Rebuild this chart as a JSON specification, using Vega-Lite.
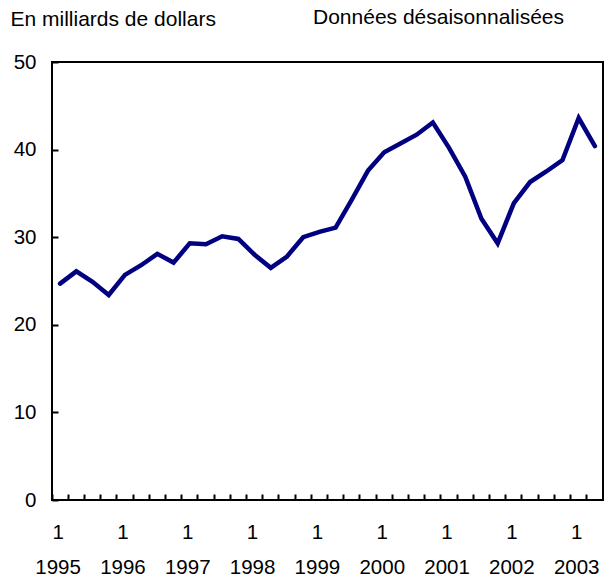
{
  "$schema": "https://vega.github.io/schema/vega-lite/v6.json",
  "width": 551,
  "height": 438,
  "autosize": "none",
  "padding": {"left": 52, "top": 62, "right": 10, "bottom": 77},
  "background": "white",
  "config": {
    "view": {"stroke": "black", "strokeWidth": 2},
    "font": "Liberation Sans",
    "axis": {"labelFont": "Liberation Sans", "labelFontSize": 20.5, "labelColor": "black", "grid": false, "domain": false, "tickColor": "black", "tickWidth": 2}
  },
  "title": {
    "text": "Données désaisonnalisées",
    "anchor": "start",
    "frame": "group",
    "dx": 261,
    "offset": -37,
    "baseline": "alphabetic",
    "font": "Liberation Sans",
    "fontSize": 21,
    "fontWeight": "normal",
    "color": "black"
  },
  "data": {
    "values": [
      {"q": "1995-1", "v": 24.7}, {"q": "1995-2", "v": 26.1}, {"q": "1995-3", "v": 24.9}, {"q": "1995-4", "v": 23.4},
      {"q": "1996-1", "v": 25.7}, {"q": "1996-2", "v": 26.8}, {"q": "1996-3", "v": 28.1}, {"q": "1996-4", "v": 27.1},
      {"q": "1997-1", "v": 29.3}, {"q": "1997-2", "v": 29.2}, {"q": "1997-3", "v": 30.1}, {"q": "1997-4", "v": 29.8},
      {"q": "1998-1", "v": 28.0}, {"q": "1998-2", "v": 26.5}, {"q": "1998-3", "v": 27.8}, {"q": "1998-4", "v": 30.0},
      {"q": "1999-1", "v": 30.6}, {"q": "1999-2", "v": 31.1}, {"q": "1999-3", "v": 34.3}, {"q": "1999-4", "v": 37.6},
      {"q": "2000-1", "v": 39.7}, {"q": "2000-2", "v": 40.7}, {"q": "2000-3", "v": 41.7}, {"q": "2000-4", "v": 43.1},
      {"q": "2001-1", "v": 40.2}, {"q": "2001-2", "v": 36.9}, {"q": "2001-3", "v": 32.1}, {"q": "2001-4", "v": 29.3},
      {"q": "2002-1", "v": 33.9}, {"q": "2002-2", "v": 36.3}, {"q": "2002-3", "v": 37.5}, {"q": "2002-4", "v": 38.8},
      {"q": "2003-1", "v": 43.6}, {"q": "2003-2", "v": 40.4}
    ]
  },
  "mark": {"type": "line", "color": "#000080", "strokeWidth": 4.5, "strokeJoin": "miter", "strokeCap": "round"},
  "encoding": {
    "x": {
      "field": "q",
      "type": "ordinal",
      "sort": null,
      "bandPosition": 0.5,
      "scale": {"type": "band", "paddingInner": 0, "paddingOuter": 0},
      "axis": {
        "title": null,
        "bandPosition": 0,
        "tickSize": -6,
        "labelAngle": 0,
        "labelOffset": -2,
        "labelPadding": 28,
        "labelBaseline": "top",
        "labelLineHeight": 35,
        "labelOverlap": false,
        "labelExpr": "substring(datum.value, 5) == '1' ? ['1', substring(datum.value, 0, 4)] : ''"
      }
    },
    "y": {
      "field": "v",
      "type": "quantitative",
      "scale": {"domain": [0, 50], "nice": false},
      "axis": {
        "title": "En milliards de dollars",
        "titleAngle": 0,
        "titleAlign": "left",
        "titleBaseline": "alphabetic",
        "titleX": -42,
        "titleY": -37,
        "titleFont": "Liberation Sans",
        "titleFontSize": 21,
        "titleFontWeight": "normal",
        "titleColor": "black",
        "values": [0, 10, 20, 30, 40, 50],
        "tickSize": -6,
        "labelPadding": 22
      }
    }
  }
}
